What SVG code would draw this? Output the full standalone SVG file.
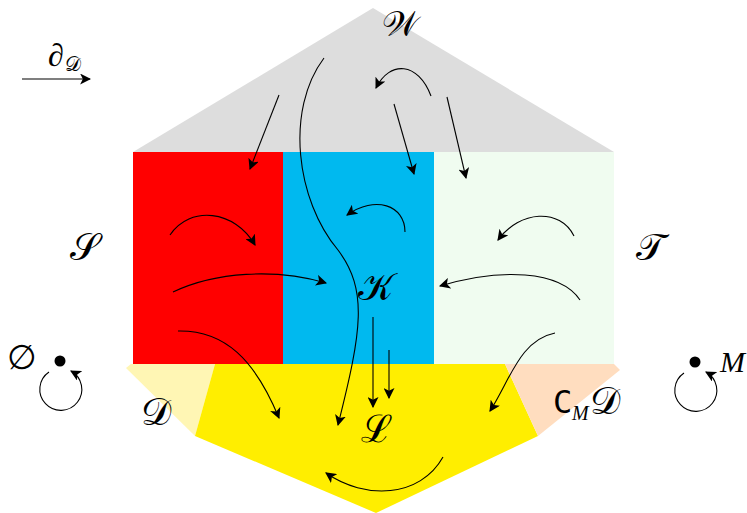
<svg xmlns="http://www.w3.org/2000/svg" width="747" height="513" viewBox="0 0 747 513">
<defs>
<marker id="ah" viewBox="0 0 10 10" refX="9" refY="5" markerWidth="11" markerHeight="11" markerUnits="userSpaceOnUse" orient="auto">
<path d="M0,0 L10,5 L0,10 L2.5,5 z" fill="#000"/>
</marker>
<style>
.c{fill:none;stroke:#000;stroke-width:1.1;marker-end:url(#ah)}
.m{font-family:"DejaVu Serif","Liberation Serif",serif;font-size:38px;fill:#000;font-weight:normal}
.i{font-family:"Liberation Serif",serif;font-style:italic;fill:#000}
</style>
</defs>
<g id="regions">
<polygon id="W-region" points="133,152 373,8 614,152" fill="#DDDDDD"/>
<rect id="S-region" x="133" y="152" width="150" height="212" fill="#FF0000"/>
<rect id="K-region" x="283" y="152" width="151" height="212" fill="#00B9EF"/>
<rect id="T-region" x="434" y="152" width="180" height="212" fill="#F0FCF0"/>
<polygon id="D-region" points="126,368 131,364 215,364 195,436" fill="#FFF6B4"/>
<polygon id="L-region" points="215,364 505,364 538,436 376,513 195,436" fill="#FFEE00"/>
<polygon id="CD-region" points="505,364 614,364 620,370 538,436" fill="#FFDDBF"/>
</g>
<g id="labels">
<text class="m" x="382" y="36" style="font-size:35px">𝒲</text>
<text class="m" x="70" y="260">𝒮</text>
<text class="m" x="636" y="260">𝒯</text>
<text class="m" x="358" y="300">𝒦</text>
<text class="m" x="361" y="442">ℒ</text>
<text class="m" x="141" y="425">𝒟</text>
<text x="553" y="413" font-family="DejaVu Sans Mono,monospace" font-size="32">C</text>
<text class="i" x="572" y="420" font-size="20">M</text>
<text class="m" x="590" y="414">𝒟</text>
<text x="48" y="66" font-family="Liberation Serif,serif" font-size="32">∂</text>
<text class="m" x="65" y="71" style="font-size:20px">𝒟</text>
<text x="7" y="369" font-family="Liberation Serif,serif" font-size="34">∅</text>
<text class="i" x="720" y="372" font-size="30">M</text>
</g>
<g id="loops">
<circle cx="60" cy="361" r="5.5" fill="#000"/>
<path class="c" d="M49,372 A21,21 0 1 0 71,371"/>
<circle cx="695" cy="362" r="5.5" fill="#000"/>
<path class="c" d="M684,373 A21,21 0 1 0 706,372"/>
</g>
<g id="connectors">
<path class="c" d="M22,79 L90,79"/>
<path class="c" d="M279,95 L250,169"/>
<path class="c" d="M324,58 C285,110 296,200 338,250 C368,290 362,330 338,425"/>
<path class="c" d="M431,96 C418,62 390,60 376,88"/>
<path class="c" d="M394,104 L414,174"/>
<path class="c" d="M447,97 L466,178"/>
<path class="c" d="M170,235 C190,205 235,210 255,245"/>
<path class="c" d="M173,292 C215,272 275,268 326,283"/>
<path class="c" d="M178,331 C225,330 255,360 279,418"/>
<path class="c" d="M405,232 C405,205 375,195 347,215"/>
<path class="c" d="M373,317 L373,407"/>
<path class="c" d="M389,350 L389,398"/>
<path class="c" d="M574,236 C560,208 520,210 498,240"/>
<path class="c" d="M580,300 C560,270 500,268 440,286"/>
<path class="c" d="M555,333 C520,340 510,380 490,411"/>
<path class="c" d="M443,457 C420,498 365,500 326,473"/>
</g>
</svg>
